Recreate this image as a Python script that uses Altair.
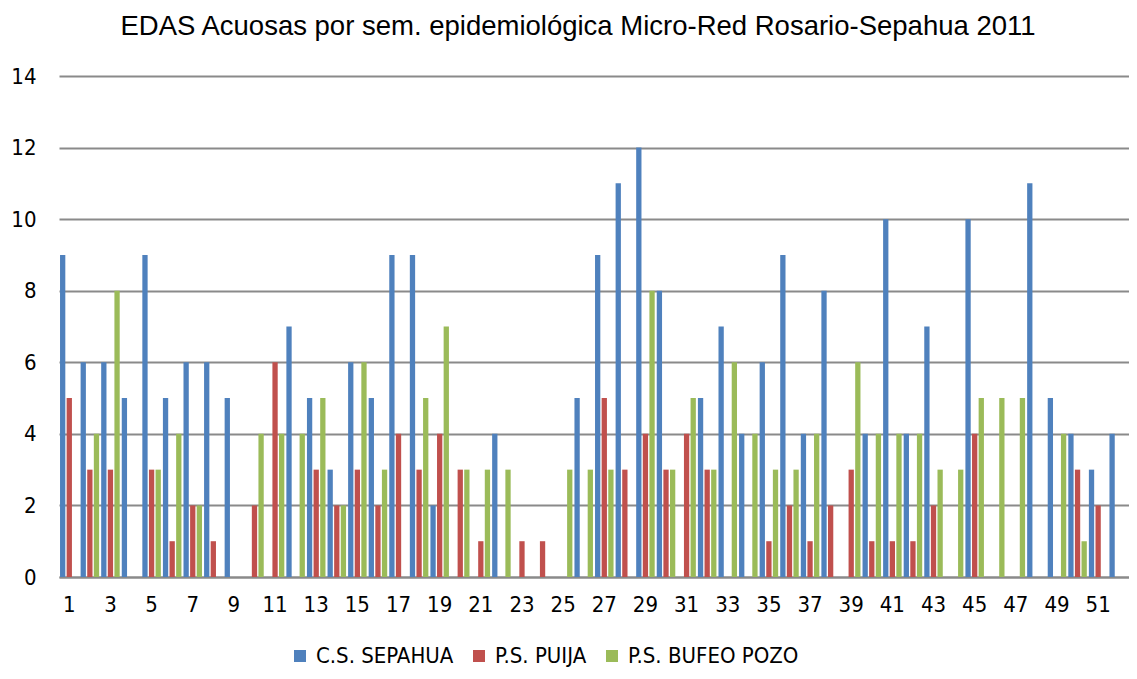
import altair as alt
import pandas as pd

weeks = list(range(1, 53))
series_names = ["C.S. SEPAHUA", "P.S. PUIJA", "P.S. BUFEO POZO"]
sepahua = [9, 6, 6, 5, 9, 5, 6, 6, 5, 0,
           0, 7, 5, 3, 6, 5, 9, 9, 2, 0,
           0, 4, 0, 0, 0, 5, 9, 11, 12, 8,
           0, 5, 7, 4, 6, 9, 4, 8, 0, 4,
           10, 4, 7, 0, 10, 0, 0, 11, 5, 4,
           3, 4]
puija = [5, 3, 3, 0, 3, 1, 2, 1, 0, 2,
         6, 0, 3, 2, 3, 2, 4, 3, 4, 3,
         1, 0, 1, 1, 0, 0, 5, 3, 4, 3,
         4, 3, 0, 0, 1, 2, 1, 2, 3, 1,
         1, 1, 2, 0, 4, 0, 0, 0, 0, 3,
         2, 0]
bufeo = [0, 4, 8, 0, 3, 4, 2, 0, 0, 4,
         4, 4, 5, 2, 6, 3, 0, 5, 7, 3,
         3, 3, 0, 0, 3, 3, 3, 0, 8, 3,
         5, 3, 6, 4, 3, 3, 4, 0, 6, 4,
         4, 4, 3, 3, 5, 5, 5, 0, 4, 1,
         0, 0]
colors = ["#4F81BD", "#C0504D", "#9BBB59"]
x_tick_labels = list(range(1, 52, 2))
y_ticks = [0, 2, 4, 6, 8, 10, 12, 14]
title_text = "EDAS Acuosas por sem. epidemiológica Micro-Red Rosario-Sepahua 2011"

rows = []
for name, vals in zip(series_names, [sepahua, puija, bufeo]):
    for w, v in zip(weeks, vals):
        rows.append({"semana": w, "serie": name, "casos": v})
df = pd.DataFrame(rows)

NARROW = "DejaVu Sans Condensed"
GRID = "#8a8a8a"

chart = alt.Chart(df).mark_bar().encode(
    x=alt.X("semana:O",
            scale=alt.Scale(paddingInner=0.1, paddingOuter=0.05),
            axis=alt.Axis(title=None, values=x_tick_labels, labelAngle=0,
                          ticks=False, tickSize=0, labelPadding=17,
                          domainColor=GRID, domainWidth=2,
                          labelFontSize=22, labelFont=NARROW, labelColor="black")),
    xOffset=alt.XOffset("serie:N", sort=series_names,
                        scale=alt.Scale(paddingInner=0.2)),
    y=alt.Y("casos:Q",
            scale=alt.Scale(domain=[0, 14]),
            axis=alt.Axis(title=None, values=y_ticks, domain=False,
                          ticks=False, tickSize=0, labelPadding=23,
                          gridColor=GRID, gridWidth=2,
                          labelFontSize=22, labelFont=NARROW, labelColor="black")),
    color=alt.Color("serie:N", sort=series_names,
                    scale=alt.Scale(domain=series_names, range=colors),
                    legend=alt.Legend(title=None, orient="none", direction="horizontal",
                                      legendX=230, legendY=569,
                                      symbolType="square", symbolSize=144,
                                      symbolStrokeWidth=0, labelOffset=5,
                                      labelFontSize=22, labelFont=NARROW,
                                      labelColor="black", labelLimit=400,
                                      columnPadding=14)),
).properties(
    width=1121,
    height=663,
    title=alt.Title(title_text, fontSize=27.5, font="Liberation Sans",
                    fontWeight="normal", color="black", offset=25, dx=-16),
    autosize=alt.AutoSizeParams(type="fit", contains="padding"),
    padding={"left": 2, "top": 4, "right": 0, "bottom": 56},
).configure_view(stroke=None)

chart.save("out.html", embed_options={"renderer": "svg", "actions": False})
